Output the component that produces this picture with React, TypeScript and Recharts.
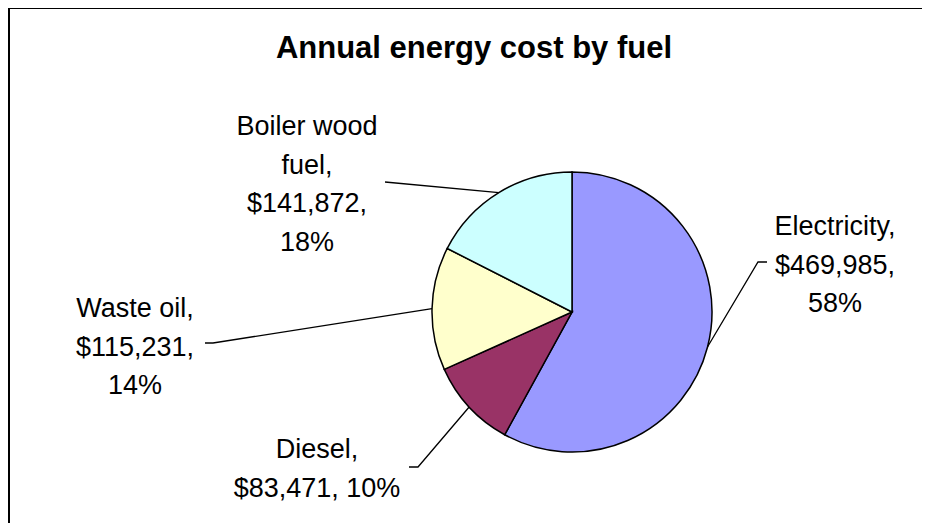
import React from 'react';
import { PieChart, Pie, Cell } from 'recharts';

const fuels = ['Electricity', 'Diesel', 'Waste oil', 'Boiler wood fuel'];
const costs = [469985, 83471, 115231, 141872];
const fills = ['#9999FF', '#993366', '#FFFFCC', '#CCFFFF'];

const data = fuels.map((name, i) => ({ name, value: costs[i] }));

// label placement, relative to the pie centre
const labelLayout: Record<string, { elbow: [number, number]; end?: [number, number]; tx: number; ty: number; breaks: (n: string, v: string, p: string) => string[] }> = {
  Electricity: { elbow: [186, -50], end: [195, -50], tx: 263, ty: -77, breaks: (n, v, p) => [n + ',', v + ',', p] },
  Diesel: { elbow: [-154, 155], end: [-163, 155], tx: -255, ty: 146, breaks: (n, v, p) => [n + ',', v + ', ' + p] },
  'Waste oil': { elbow: [-359, 31], end: [-367, 31], tx: -437, ty: 5, breaks: (n, v, p) => [n + ',', v + ',', p] },
  'Boiler wood fuel': { elbow: [-187, -130], tx: -265, ty: -177, breaks: (_n, v, p) => ['Boiler wood', 'fuel,', v + ',', p] },
};

const RAD = Math.PI / 180;
const LINE_H = 38.5;

const renderLabel = (props: any) => {
  const { cx, cy, midAngle, outerRadius, name, value, percent } = props;
  const lay = labelLayout[name];
  if (!lay) return null;
  const sx = cx + Math.cos(-midAngle * RAD) * outerRadius;
  const sy = cy + Math.sin(-midAngle * RAD) * outerRadius;
  const pts = [[sx, sy], [cx + lay.elbow[0], cy + lay.elbow[1]]];
  if (lay.end) pts.push([cx + lay.end[0], cy + lay.end[1]]);
  const lines = lay.breaks(name, '$' + value.toLocaleString('en-US'), Math.round(percent * 100) + '%');
  return (
    <g>
      <polyline points={pts.map((p) => p.join(',')).join(' ')} fill="none" stroke="#000" strokeWidth={1.3} />
      <text x={cx + lay.tx} y={cy + lay.ty} textAnchor="middle" fontFamily="'Liberation Sans', Arial, sans-serif" fontSize={27} fill="#000">
        {lines.map((l, i) => (
          <tspan key={i} x={cx + lay.tx} dy={i === 0 ? 0 : LINE_H}>
            {l}
          </tspan>
        ))}
      </text>
    </g>
  );
};

export default function App() {
  return (
    <div style={{ position: 'relative', width: 922, height: 515, background: '#fff' }}>
      <div
        style={{
          position: 'absolute',
          left: 0,
          top: -1,
          width: 920,
          height: 514,
          borderTop: '2px solid #000',
          borderLeft: '2px solid #000',
        }}
      />
      <div
        style={{
          position: 'absolute',
          left: 0,
          width: 932,
          top: 22,
          textAlign: 'center',
          fontFamily: "'Liberation Sans', Arial, sans-serif",
          fontWeight: 'bold',
          fontSize: 31,
          lineHeight: '36px',
        }}
      >
        Annual energy cost by fuel
      </div>
      <PieChart
        width={922}
        height={515}
        margin={{ top: 0, right: 0, bottom: 0, left: 0 }}
        style={{ position: 'absolute', left: 0, top: 0 }}
      >
        <Pie
          data={data}
          dataKey="value"
          nameKey="name"
          cx={564}
          cy={304}
          outerRadius={140}
          startAngle={90}
          endAngle={-270}
          stroke="#000"
          strokeWidth={1.5}
          label={renderLabel}
          labelLine={false}
          isAnimationActive={false}
        >
          {data.map((d, i) => (
            <Cell key={d.name} fill={fills[i]} />
          ))}
        </Pie>
      </PieChart>
    </div>
  );
}
